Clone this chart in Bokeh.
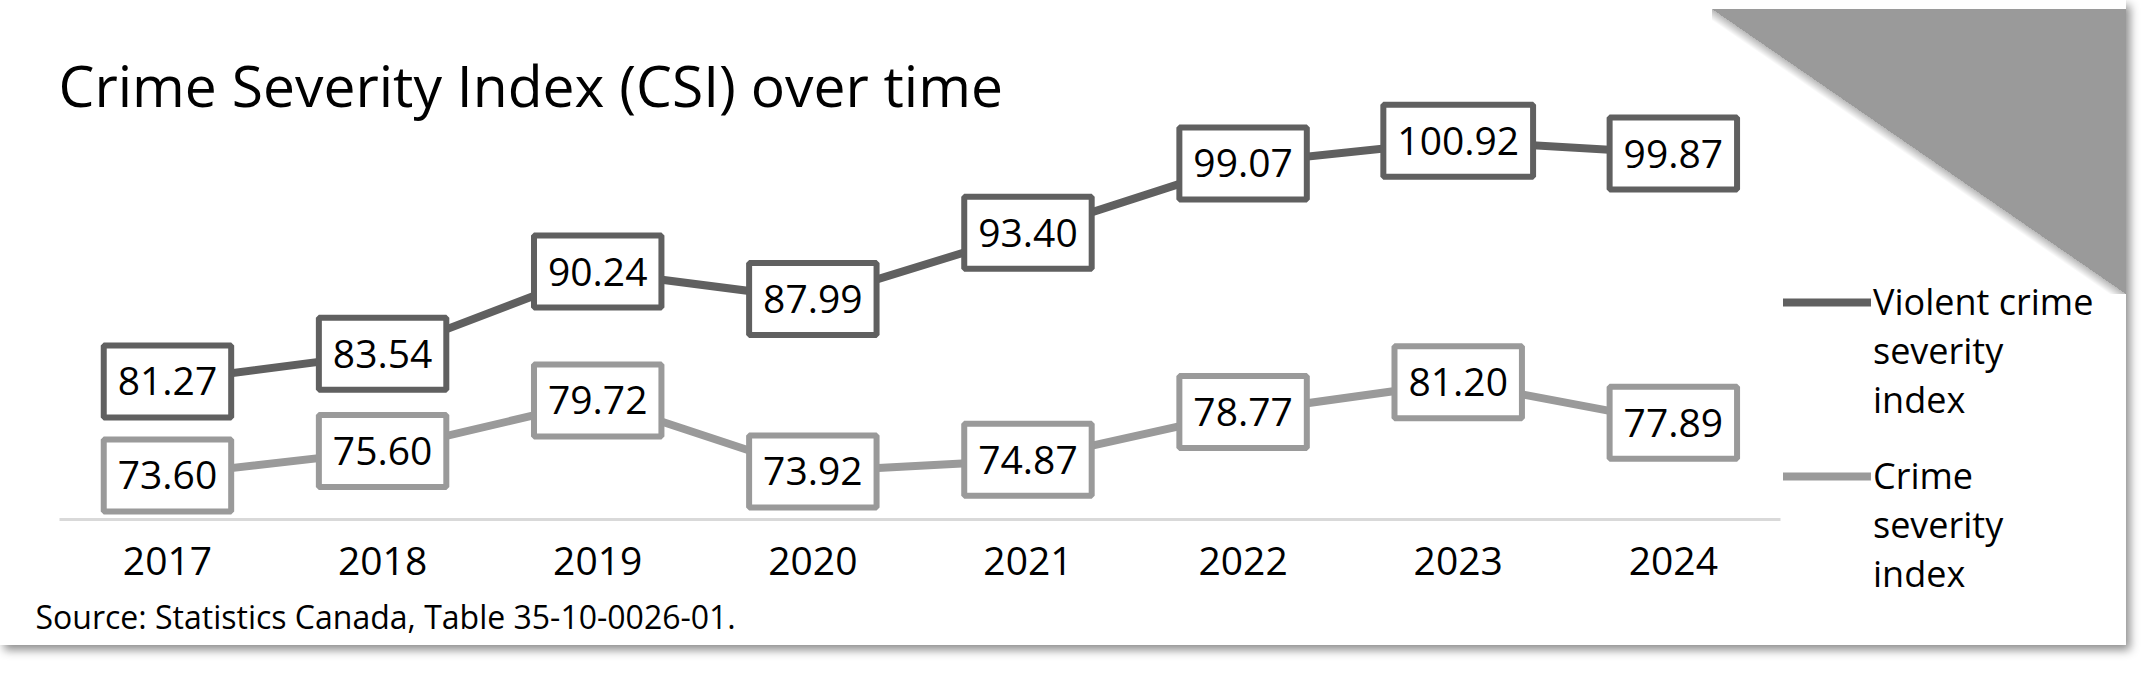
from bokeh.plotting import figure
from bokeh.models import (ColumnDataSource, Range1d, Label, Legend, LegendItem, FixedTicker)
from bokeh.core.properties import value
from bokeh.embed import file_html
from bokeh.resources import INLINE

# ---------------- data ----------------
years = [2017, 2018, 2019, 2020, 2021, 2022, 2023, 2024]
violent_csi = [81.27, 83.54, 90.24, 87.99, 93.40, 99.07, 100.92, 99.87]
total_csi = [73.60, 75.60, 79.72, 73.92, 74.87, 78.77, 81.20, 77.89]
series_names = ["Violent crime\nseverity\nindex", "Crime\nseverity\nindex"]
title_text = "Crime Severity Index (CSI) over time"
source_text = "Source: Statistics Canada, Table 35-10-0026-01."
axis_base = 70

# ---------------- style / layout ----------------
FONT = "Open Sans"
DARK = "#606060"
LIGHT = "#9a9a9a"
W, H = 2126, 645
AXIS_PX_X = 59.4      # canvas px where the category band starts
AXIS_PX_Y = 519       # canvas px of the base line
PX_PER_YEAR = 215.125
PX_PER_UNIT = 12.25

X0 = years[0] - 0.5 - AXIS_PX_X / PX_PER_YEAR
X1 = X0 + W / PX_PER_YEAR
Y0 = axis_base - (H - AXIS_PX_Y) / PX_PER_UNIT
Y1 = axis_base + AXIS_PX_Y / PX_PER_UNIT

def dx(px):   # canvas px -> data x
    return X0 + px / PX_PER_YEAR

def dy(py):   # canvas px -> data y
    return Y1 - py / PX_PER_UNIT

src = ColumnDataSource(dict(
    year=years,
    violent=violent_csi,
    total=total_csi,
    vlab=[f"{v:.2f}" for v in violent_csi],
    tlab=[f"{v:.2f}" for v in total_csi],
))

p = figure(width=W, height=H, x_range=Range1d(X0, X1), y_range=Range1d(Y0, Y1),
           output_backend="svg", toolbar_location=None, title=None,
           min_border_left=0, min_border_right=0, min_border_top=0, min_border_bottom=0,
           background_fill_color=None, border_fill_color=None)
p.outline_line_color = None
tri = ("linear-gradient(to bottom left, #9a9a9a 50%, rgba(0,0,0,0.28) 50%, "
       "rgba(0,0,0,0) 52%) right 0 top 9px / 414px 285px no-repeat")
p.styles = {"background": tri + ", white",
            "box-shadow": "4px 5px 9px rgba(0,0,0,0.45)"}

p.xgrid.visible = False
p.ygrid.visible = False
p.yaxis.visible = False
ax = p.xaxis[0]
ax.fixed_location = axis_base
ax.ticker = FixedTicker(ticks=years)
ax.bounds = (years[0] - 0.5, years[-1] + 0.5)
ax.axis_line_color = "#d9d9d9"
ax.axis_line_width = 3
ax.major_tick_line_color = None
ax.minor_tick_line_color = None
ax.major_tick_out = 0
ax.major_label_standoff = 27
ax.major_label_text_font = FONT
ax.major_label_text_font_size = "39px"
ax.major_label_text_color = "black"

r1 = p.line(x="year", y="violent", source=src, line_color=DARK, line_width=8,
            line_join="round", line_cap="round")
r2 = p.line(x="year", y="total", source=src, line_color=LIGHT, line_width=8,
            line_join="round", line_cap="round")

pad = dict(left=14, right=14, top=22, bottom=22)
for col, lab, colr in [("violent", "vlab", DARK), ("total", "tlab", LIGHT)]:
    p.text(x="year", y=col, text=lab, source=src, text_font=value(FONT),
           text_font_size="39px", text_color="black", text_align="center",
           text_baseline="middle", background_fill_color="white",
           border_line_color=colr, border_line_width=6, padding=pad)

# legend: one per series; two leading blank lines so the swatch sits beside the first line
for name, rend, ly in [(series_names[0], r1, 221), (series_names[1], r2, 47)]:
    lg = Legend(items=[LegendItem(label="\n\n" + name, renderers=[rend])],
                location=(1783, ly), orientation="vertical", padding=0, margin=0,
                spacing=0, glyph_width=88, glyph_height=20, label_standoff=2,
                label_text_font=FONT, label_text_font_size="36px",
                label_text_line_height=1.33, label_text_color="black",
                border_line_alpha=0, background_fill_alpha=0)
    p.add_layout(lg)

p.add_layout(Label(x=dx(58), y=dy(84), text=title_text, text_font=FONT,
                   text_font_size="57px", text_color="black", text_baseline="alphabetic"))
p.add_layout(Label(x=dx(35), y=dy(616), text=source_text, text_font=FONT,
                   text_font_size="32px", text_color="black", text_baseline="alphabetic"))

open("out.html", "w").write(file_html(p, INLINE))
